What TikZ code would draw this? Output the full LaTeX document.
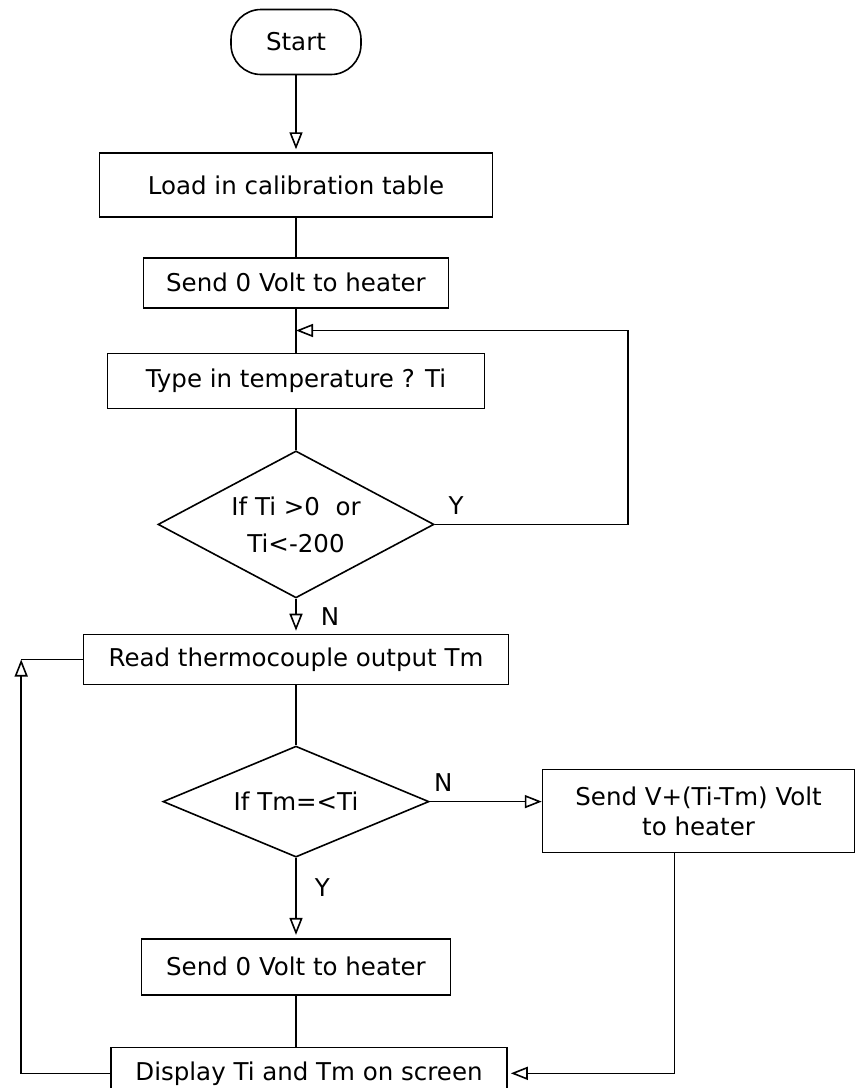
\documentclass[tikz,border=0pt]{standalone}
\usepackage{fontspec}
\setmainfont{DejaVu Sans}
\usepackage{tikz}
\usetikzlibrary{arrows.meta,positioning,calc,shapes.geometric}
\newcommand{\boxfont}{\fontsize{24.5}{30}\selectfont}
\tikzset{
  blk/.style     = {draw,line width=1.6pt,inner sep=0pt,align=center,font=\boxfont},
  term/.style    = {blk,rounded corners=30pt,minimum width=130pt,minimum height=65pt},
  cond/.style    = {blk,diamond,shape aspect=2},
  lbl/.style     = {font=\boxfont,inner sep=0pt},
  line/.style    = {line width=1.6pt},
  flowarr/.style = {line,-{Triangle[open,length=17pt,width=13pt,line width=1.6pt]},
                    shorten >=3pt},
}

\begin{document}
\begin{tikzpicture}[x=1pt,y=-1pt]
  \useasboundingbox (0,0) rectangle (855,1088);

  \node[term] (start) at (296,42) {Start};
  \node[blk,minimum width=393pt,minimum height=64pt,below=77pt of start] (load)
       {Load in calibration table};
  \node[blk,minimum width=305pt,minimum height=50pt,below=39pt of load] (send0)
       {Send 0 Volt to heater};
  \node[blk,minimum width=377pt,minimum height=55pt,below=44pt of send0] (type)
       {Type in temperature ? Ti};
  \node[cond,minimum width=276pt,minimum height=147pt,below=41pt of type,
        font=\fontsize{24.5}{37}\selectfont] (dec1)
       {If Ti >0\ \ or\\Ti<-200};
  \node[blk,minimum width=425pt,minimum height=50pt,below=35pt of dec1] (read)
       {Read thermocouple output Tm};
  \node[cond,minimum width=266pt,minimum height=111pt,below=60pt of read] (dec2)
       {If Tm=<Ti};
  \node[blk,minimum width=312pt,minimum height=83pt,right=112pt of dec2,yshift=-9.5pt] (sendv)
       {Send V+(Ti-Tm) Volt\\to heater};
  \node[blk,minimum width=309pt,minimum height=56pt,below=80pt of dec2] (send0b)
       {Send 0 Volt to heater};
  \node[blk,minimum width=396pt,minimum height=52pt,below=51pt of send0b,xshift=13pt] (disp)
       {Display Ti and Tm on screen};

  % main column
  \draw[flowarr] (start) -- (load);
  \draw[line] (load) -- (send0);
  \draw[line] (send0) -- (type);
  \draw[line] (type) -- (dec1);
  \draw[flowarr] (dec1) -- node[lbl,right=24pt]{N} (read);
  \draw[line] (read) -- (dec2);
  \draw[flowarr] (dec2) -- node[lbl,pos=0.37,right=18pt]{Y} (send0b);
  \draw[line] (send0b.south) -- (send0b.south |- disp.north);

  % retry loop back to the input step
  \coordinate (back) at ($(send0.south)!0.5!(type.north)$);
  \draw[flowarr,shorten >=0pt] (dec1.east) -- node[lbl,pos=0.11,above=9pt]{Y} ++(193,0) |- (back);

  % heater correction branch
  \draw[flowarr,shorten >=0pt] (dec2.east) -- node[lbl,pos=0.12,above=9pt]{N} (dec2.east -| sendv.west);
  \draw[flowarr] ([xshift=-24pt]sendv.south) |- (disp.east);

  % measuring loop
  \coordinate[left=61.5pt of read.west] (fb);
  \draw[flowarr,shorten >=0pt] (disp.west) -| (fb);
  \draw[line] (fb) -- (read.west);
\end{tikzpicture}
\end{document}
